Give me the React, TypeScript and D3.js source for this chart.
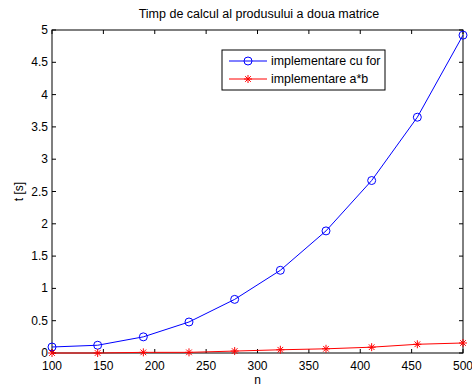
import * as d3 from "d3";

const nValues = [100, 144.44, 188.89, 233.33, 277.78, 322.22, 366.67, 411.11, 455.56, 500];
const forTimes = [0.093, 0.12, 0.25, 0.48, 0.83, 1.28, 1.89, 2.67, 3.65, 4.92];
const matTimes = [0.0, 0.0, 0.01, 0.01, 0.03, 0.05, 0.065, 0.09, 0.135, 0.155];
const xTicks = [100, 150, 200, 250, 300, 350, 400, 450, 500];
const yTicks = [0, 0.5, 1, 1.5, 2, 2.5, 3, 3.5, 4, 4.5, 5];
const seriesNames = ["implementare cu for", "implementare a*b"];

const W = 472;
const H = 390;
const left = 52;
const right = 463;
const top = 30;
const bottom = 353;
const font = "'Liberation Sans', Arial, sans-serif";

const Star = ({ x, y, r, color }: { x: number; y: number; r: number; color: string }) => {
  const d = [0, 45, 90, 135]
    .map((a) => {
      const rad = (a * Math.PI) / 180;
      const dx = Math.cos(rad) * r;
      const dy = Math.sin(rad) * r;
      return `M${x - dx},${y - dy}L${x + dx},${y + dy}`;
    })
    .join("");
  return <path d={d} stroke={color} strokeWidth={1} fill="none" />;
};

const App = () => {
  const xScale = d3.scaleLinear().domain([100, 500]).range([left, right]);
  const yScale = d3.scaleLinear().domain([0, 5]).range([bottom, top]);

  const line = d3
    .line<number>()
    .x((_, i) => xScale(nValues[i]))
    .y((d) => yScale(d));

  const tickLen = 4;

  return (
    <svg
      width={W}
      height={H}
      style={{ position: "absolute", left: 0, top: 0, background: "#fff" }}
      fontFamily={font}
    >
      <rect x={0} y={0} width={W} height={H} fill="#fff" />
      <text x={259} y={18} textAnchor="middle" fontSize={12.5} fill="#000">
        Timp de calcul al produsului a doua matrice
      </text>

      {/* axes box */}
      <rect x={left} y={top} width={right - left} height={bottom - top} fill="none" stroke="#000" strokeWidth={1} />

      {xTicks.map((t) => (
        <g key={"x" + t}>
          <line x1={xScale(t)} x2={xScale(t)} y1={bottom} y2={bottom - tickLen} stroke="#000" />
          <line x1={xScale(t)} x2={xScale(t)} y1={top} y2={top + tickLen} stroke="#000" />
          <text x={xScale(t)} y={370} textAnchor="middle" fontSize={12} fill="#000">
            {t}
          </text>
        </g>
      ))}
      {yTicks.map((t) => (
        <g key={"y" + t}>
          <line x1={left} x2={left + tickLen} y1={yScale(t)} y2={yScale(t)} stroke="#000" />
          <line x1={right} x2={right - tickLen} y1={yScale(t)} y2={yScale(t)} stroke="#000" />
          <text x={48} y={yScale(t) + 4} textAnchor="end" fontSize={12} fill="#000">
            {t}
          </text>
        </g>
      ))}

      <text x={(left + right) / 2} y={384} textAnchor="middle" fontSize={12} fill="#000">
        n
      </text>
      <text
        transform={`translate(23,${(top + bottom) / 2}) rotate(-90)`}
        textAnchor="middle"
        fontSize={12}
        fill="#000"
      >
        t [s]
      </text>

      {/* series */}
      <path d={line(forTimes) ?? undefined} fill="none" stroke="#0000ff" strokeWidth={1} />
      {forTimes.map((v, i) => (
        <circle key={"c" + i} cx={xScale(nValues[i])} cy={yScale(v)} r={4} fill="none" stroke="#0000ff" />
      ))}
      <path d={line(matTimes) ?? undefined} fill="none" stroke="#ff0000" strokeWidth={1} />
      {matTimes.map((v, i) => (
        <Star key={"s" + i} x={xScale(nValues[i])} y={yScale(v)} r={4} color="#ff0000" />
      ))}

      {/* legend */}
      <rect x={222} y={50} width={163} height={40} fill="#fff" stroke="#000" strokeWidth={1} />
      <line x1={229} x2={267} y1={61} y2={61} stroke="#0000ff" />
      <circle cx={248} cy={61} r={4} fill="none" stroke="#0000ff" />
      <text x={271} y={65} fontSize={12.4} fill="#000">
        {seriesNames[0]}
      </text>
      <line x1={229} x2={267} y1={79} y2={79} stroke="#ff0000" />
      <Star x={248} y={79} r={4} color="#ff0000" />
      <text x={271} y={83} fontSize={12.4} fill="#000">
        {seriesNames[1]}
      </text>
    </svg>
  );
};

export default App;
